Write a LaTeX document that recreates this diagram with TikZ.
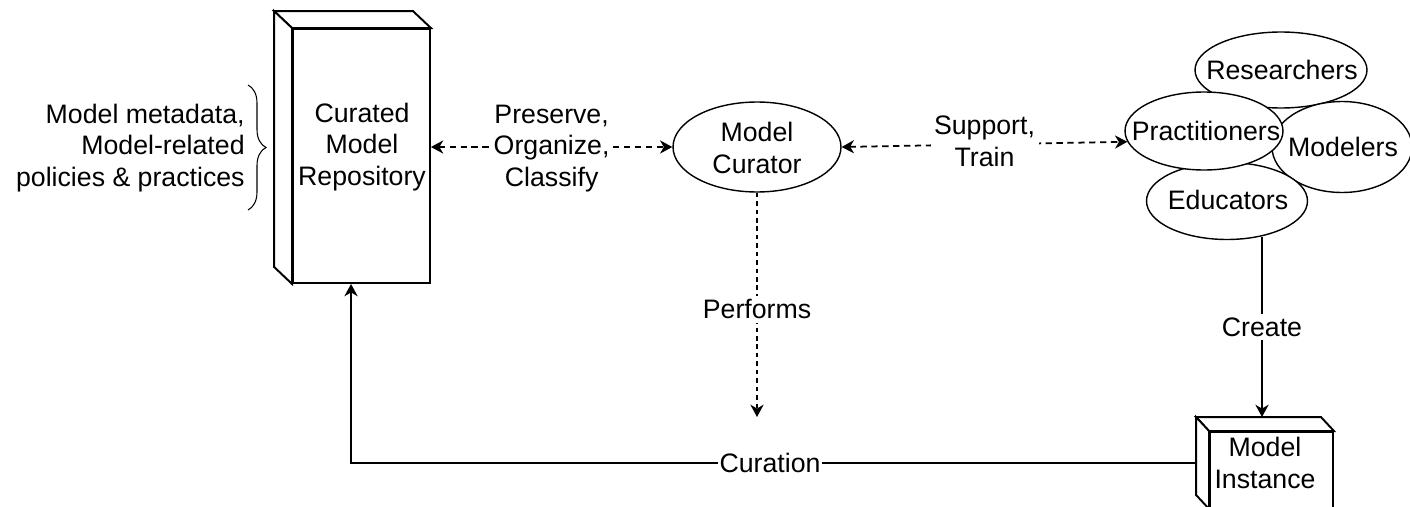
\documentclass[tikz,border=0pt]{standalone}
\usepackage{fontspec}
\setmainfont{Liberation Sans}
\usetikzlibrary{shapes.geometric,arrows.meta,decorations.pathreplacing,calc}
\begin{document}
\begin{tikzpicture}[x=0.02cm,y=-0.02cm,
  font=\fontsize{15.2}{17.8}\selectfont,
  boxface/.style={draw, line width=1.1pt, fill=white, inner sep=0pt, rectangle},
  boxside/.style={draw, line width=1.1pt, fill=white, line join=miter},
  ell/.style={draw, ellipse, line width=0.8pt, fill=white, inner sep=0pt},
  txt/.style={align=center, inner sep=0pt},
  lbl/.style={fill=white, align=center, inner sep=2pt},
  dashconn/.style={line width=1.0pt, dash pattern=on 3.6pt off 2.6pt},
  dotconn/.style={line width=1.0pt, dash pattern=on 2.6pt off 2.2pt},
  solidconn/.style={line width=1.1pt},
  tip/.style={-{Stealth[length=7pt,width=7.5pt,inset=2.2pt]}},
  bitip/.style={{Stealth[length=7pt,width=7.5pt,inset=2.2pt]}-{Stealth[length=7pt,width=7.5pt,inset=2.2pt]}}
]
\useasboundingbox (0,0) rectangle (1410,507);
\begin{scope}
\clip (0,0) rectangle (1410,507);

% Curated Model Repository (3D box)
\node[boxface, minimum width=2.74cm, minimum height=5.08cm] (rep) at (361.5,156) {};
\draw[boxside] (rep.north west) -- ++(-18,-17) -- ($(rep.north east)+(-18,-17)$) -- (rep.north east) -- cycle;
\draw[boxside] (rep.north west) -- ++(-18,-17) -- ($(rep.south west)+(-18,-17)$) -- (rep.south west) -- cycle;
\node[txt] (reptxt) at (362,147) {Curated\\Model\\Repository};

% Brace and its text
\draw[line width=0.6pt, decorate, decoration={brace, amplitude=0.36cm}] (248,85) coordinate (bt) -- (248,210) coordinate (bb);
\node[txt, align=right, anchor=east] (meta) at (245,148) {Model metadata,\\Model-related\\policies \& practices};

% Model Curator
\node[ell, minimum width=3.36cm, minimum height=1.8cm] (cur) at (757,147) {};
\node[txt] (curtxt) at (757,148) {Model\\Curator};

% People cluster
\node[ell, minimum width=3.44cm, minimum height=1.52cm] (res) at (1281,70) {};
\node[ell, minimum width=2.8cm, minimum height=1.82cm] (mod) at (1342,147) {};
\node[ell, minimum width=3.22cm, minimum height=1.54cm] (edu) at (1227,201) {};
\node[ell, minimum width=3.16cm, minimum height=1.56cm] (prac) at (1204,131) {};
\node[txt] (restxt) at (1282,70) {Researchers};
\node[txt] (modtxt) at (1343,147) {Modelers};
\node[txt] (edutxt) at (1228,200) {Educators};
\node[txt] (practxt) at (1206,131) {Practitioners};

% Model Instance (3D box)
\node[boxface, minimum width=2.46cm, minimum height=1.52cm] (mi) at (1271.5,470) {};
\draw[boxside] (mi.north west) -- ++(-13,-14) coordinate (mibtl) -- ($(mi.north east)+(-13,-14)$) -- (mi.north east) -- cycle;
\draw[boxside] (mi.north west) -- ++(-13,-14) -- ($(mi.south west)+(-13,-14)$) -- (mi.south west) -- cycle;
\node[txt] (mitxt) at (1265,463) {Model\\Instance};

% Connectors
\draw[dashconn, bitip] (cur.west -| rep.east) -- (cur.west)
  node[lbl, midway, yshift=-0.03cm] (pocl) {Preserve,\\Organize,\\Classify};
\draw[dashconn, bitip] (cur.east) -- (prac.188)
  node[lbl, midway, yshift=0.06cm] (sutr) {Support,\\Train};
\coordinate (perfend) at (757,417);
\draw[dotconn, tip] (cur.south) -- (perfend)
  node[lbl, pos=0.52] (perf) {Performs};
\coordinate (edubot) at ($(edu.south)+(35,-3)$);
\draw[solidconn, tip] (edubot) -- (edubot |- mibtl)
  node[lbl, pos=0.50] (crt) {Create};
\coordinate (mileft) at ($(mi.west)+(-13,-7)$);
\coordinate (repin) at ($(rep.south west)+(59,0)$);
\draw[solidconn, tip] (mileft) -- (mileft -| repin) -- (repin);
\node[lbl, inner sep=1pt] (cura) at (770,463) {Curation};
\end{scope}
\end{tikzpicture}
\end{document}
